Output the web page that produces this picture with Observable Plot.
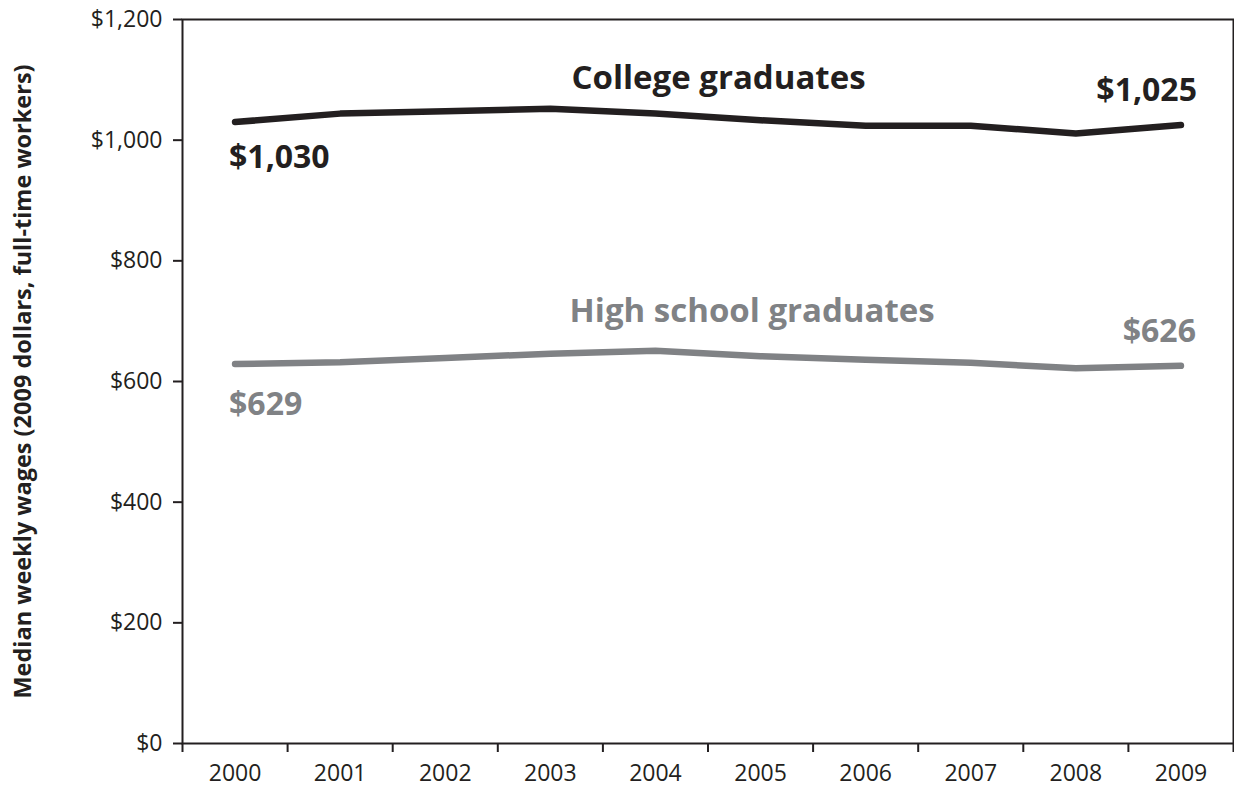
<!DOCTYPE html>
<html>
<head>
<meta charset="utf-8">
<script src="https://cdn.jsdelivr.net/npm/d3@7"></script>
<script src="https://cdn.jsdelivr.net/npm/@observablehq/plot@0.6"></script>
<style>
  html, body { margin: 0; padding: 0; background: #fff; }
  #chart svg { display: block; overflow: visible; }
</style>
</head>
<body>
<div id="chart"></div>
<script>
const years = [2000, 2001, 2002, 2003, 2004, 2005, 2006, 2007, 2008, 2009];
const college = [1030, 1044, 1048, 1052, 1044, 1033, 1024, 1024, 1011, 1025];
const highSchool = [629, 632, 639, 646, 651, 642, 636, 631, 622, 626];
const yTicks = [0, 200, 400, 600, 800, 1000, 1200];
const seriesNames = ["College graduates", "High school graduates"];
const seriesColors = ["#231f20", "#808285"];
const yLabel = "Median weekly wages (2009 dollars, full-time workers)";

const rows = [];
years.forEach((y, i) => {
  rows.push({year: y, value: college[i], series: seriesNames[0]});
  rows.push({year: y, value: highSchool[i], series: seriesNames[1]});
});
const bounds = years.map(y => y - 0.5).concat([years[years.length - 1] + 0.5]);
const fmt = v => "$" + d3.format(",")(v);
const last = years.length - 1;

function endLabel(year, value, color, anchor, dx, dy) {
  return Plot.text([{year, value}], {
    x: "year", y: "value", text: d => fmt(d.value), fill: color,
    textAnchor: anchor, dx, dy, fontWeight: "bold", fontSize: 32
  });
}
function nameLabel(name, year, value, color) {
  return Plot.text([{year, value, name}], {
    x: "year", y: "value", text: "name", fill: color, fontWeight: "bold", fontSize: 33
  });
}

const chart = Plot.plot({
  width: 1234,
  height: 787,
  marginLeft: 182,
  marginRight: 1,
  marginTop: 19,
  marginBottom: 44,
  style: {fontFamily: "'Open Sans', sans-serif", fontSize: "23px", color: "#231f20", background: "#fff", overflow: "visible"},
  x: {type: "linear", domain: [bounds[0], bounds[bounds.length - 1]], axis: null},
  y: {domain: [0, 1200], axis: null},
  color: {domain: seriesNames, range: seriesColors},
  marks: [
    Plot.axisY(yTicks, {tickSize: 9, tickPadding: 11, tickFormat: fmt, strokeWidth: 2, label: null}),
    Plot.axisX(bounds, {tickSize: 9, tickFormat: () => "", strokeWidth: 2, label: null}),
    Plot.axisX(years, {tickSize: 0, tickPadding: 21, tickFormat: d => String(d), label: null}),
    Plot.frame({stroke: "#231f20", strokeWidth: 2}),
    Plot.text([yLabel], {frameAnchor: "left", textAnchor: "middle", rotate: -90, dx: -159, fontWeight: "bold", fontSize: 23.5, fill: "#231f20"}),
    Plot.line(rows, {x: "year", y: "value", z: "series", stroke: "series", strokeWidth: 6.5, strokeLinecap: "round", strokeLinejoin: "round"}),
    endLabel(years[0], college[0], seriesColors[0], "start", -6, 36),
    endLabel(years[last], college[last], seriesColors[0], "end", 16, -34),
    endLabel(years[0], highSchool[0], seriesColors[1], "start", -6, 41),
    endLabel(years[last], highSchool[last], seriesColors[1], "end", 15, -34),
    nameLabel(seriesNames[0], 2004.6, 1102, seriesColors[0]),
    nameLabel(seriesNames[1], 2004.92, 716, seriesColors[1])
  ]
});
document.getElementById("chart").appendChild(chart);
</script>
</body>
</html>
